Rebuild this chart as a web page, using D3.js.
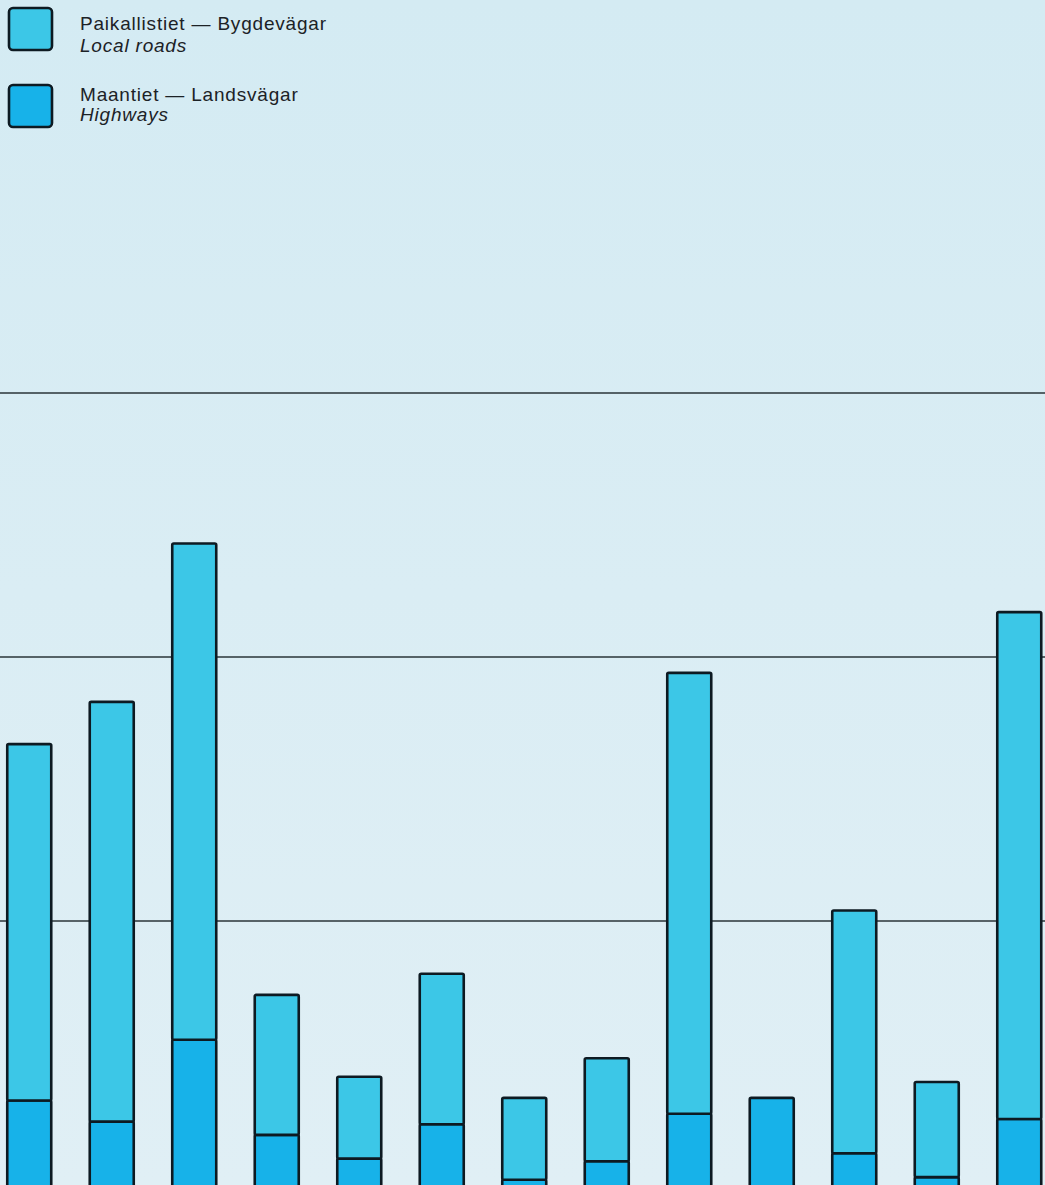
<!DOCTYPE html>
<html>
<head>
<meta charset="utf-8">
<script src="https://cdn.jsdelivr.net/npm/d3@7"></script>
<style>
  html, body { margin: 0; padding: 0; background: #d8edf4; overflow: hidden; }
  svg { display: block; }
</style>
</head>
<body>
<svg id="chart" width="1045" height="1185"></svg>
<script>
// ---- data (units = grid spacing) ----
const categories = ["1","2","3","4","5","6","7","8","9","10","11","12","13"];
const highways   = [0.32, 0.24, 0.55, 0.19, 0.10, 0.23, 0.02, 0.09, 0.27, 0.33, 0.12, 0.03, 0.25];
const localRoads = [1.35, 1.59, 1.88, 0.53, 0.31, 0.57, 0.31, 0.39, 1.67, 0.00, 0.92, 0.36, 1.92];
const gridValues = [1, 2, 3];
const legendKeys = ["local", "highway"];
const legendFinnishSwedish = ["Paikallistiet — Bygdevägar", "Maantiet — Landsvägar"];
const legendEnglish = ["Local roads", "Highways"];

const colors = { local: "#3cc7e7", highway: "#17b2e9", stroke: "#0d1a22", grid: "#2a3438" };

const svg = d3.select("#chart");
const W = 1045, H = 1185;

// background gradient
const defs = svg.append("defs");
const grad = defs.append("linearGradient").attr("id", "bg").attr("x1", 0).attr("y1", 0).attr("x2", 0).attr("y2", 1);
grad.append("stop").attr("offset", "0%").attr("stop-color", "#d4ebf3");
grad.append("stop").attr("offset", "100%").attr("stop-color", "#e0eff5");
svg.append("rect").attr("width", W).attr("height", H).attr("fill", "url(#bg)");

// scales
const x = d3.scaleBand().domain(categories).range([-12, -12 + 82.5 * categories.length])
  .paddingInner(0.4667).paddingOuter(0.2333);
const y = d3.scaleLinear().domain([0, 3]).range([1185, 393]);

// grid lines
svg.append("g").selectAll("line").data(gridValues).join("line")
  .attr("x1", 0).attr("x2", W)
  .attr("y1", d => y(d)).attr("y2", d => y(d))
  .attr("stroke", colors.grid).attr("stroke-width", 1.3);

// stacked data
const rows = categories.map((c, i) => ({ cat: c, highway: highways[i], local: localRoads[i] }));
const stack = d3.stack().keys(["highway", "local"])(rows);

const g = svg.append("g");
stack.forEach(layer => {
  g.append("g").selectAll("rect")
    .data(layer.filter(d => d[1] - d[0] > 0))
    .join("rect")
    .attr("x", d => x(d.data.cat))
    .attr("width", x.bandwidth())
    .attr("y", d => y(d[1]))
    .attr("height", d => y(d[0]) - y(d[1]) + (d[0] === 0 ? 10 : 0))
    .attr("fill", colors[layer.key])
    .attr("stroke", colors.stroke)
    .attr("stroke-width", 2.6)
    .attr("rx", 1.5);
});

// legend
const boxY = [8, 85];
const textY = [30, 101];
const lineGap = [22, 20];
const leg = svg.append("g").attr("font-family", "'Liberation Sans', Arial, Helvetica, sans-serif")
  .attr("fill", "#1c2226").attr("font-size", 19).attr("letter-spacing", 0.8);
legendKeys.forEach((k, i) => {
  leg.append("rect").attr("x", 9).attr("y", boxY[i]).attr("width", 43).attr("height", 42)
    .attr("rx", 4).attr("fill", colors[k]).attr("stroke", colors.stroke).attr("stroke-width", 2.6);
  leg.append("text").attr("x", 80).attr("y", textY[i]).text(legendFinnishSwedish[i]);
  leg.append("text").attr("x", 80).attr("y", textY[i] + lineGap[i])
    .attr("font-style", "italic").text(legendEnglish[i]);
});
</script>
</body>
</html>
